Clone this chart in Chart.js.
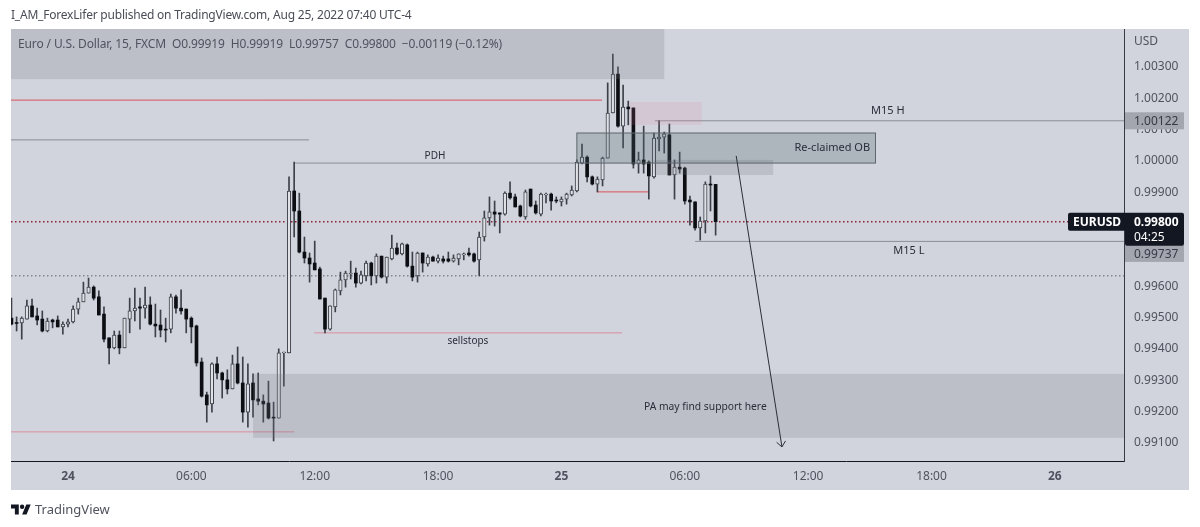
<!DOCTYPE html>
<html>
<head>
<meta charset="utf-8">
<title>EURUSD 15</title>
<script src="https://cdn.jsdelivr.net/npm/chart.js@4"></script>
<style>
  html, body { margin: 0; padding: 0; background: #fff; }
  body { width: 1200px; height: 527px; position: relative; overflow: hidden; font-family: 'Noto Sans', sans-serif; }
  canvas { position: absolute; left: 0; top: 0; }
  .publicado { position: absolute; left: 11px; top: 7px; font-size: 12px; line-height: 16px; color: #4a4d57; white-space: nowrap; letter-spacing: -.21px; }
  .legenda { position: absolute; left: 18px; top: 36px; font-size: 12px; line-height: 16px; color: #50535e; white-space: pre; letter-spacing: -.12px; }
  .marca { position: absolute; left: 11px; top: 500px; height: 18px; display: flex; align-items: center; color: #50535e; font-size: 13px; }
  .marca svg { width: 20px; height: 14px; margin-right: 4px; }
</style>
</head>
<body>
<canvas id="grafico" width="1200" height="527"></canvas>
<div class="publicado">I_AM_ForexLifer published on TradingView.com, Aug 25, 2022 07:40 UTC-4</div>
<div class="legenda">Euro / U.S. Dollar, 15, FXCM  O0.99919  H0.99919  L0.99757  C0.99800  −0.00119 (−0.12%)</div>
<div class="marca">
  <svg viewBox="0 0 36 24"><path fill="#131722" d="M14 22H7V11H0V4h14v18zM28 22h-8l7.5-18h8L28 22z"/><circle fill="#131722" cx="20" cy="8" r="4"/></svg>
  <span>TradingView</span>
</div>
<script>
// candles, 15 min each, index 0 = Aug 24 00:00
const firstCandle = -11;
const opens = [
  .99492,.99478,.99477,.99489,.99531,.99499,.99489,.99451,.99486,.99486,
  .99464,.99473,.99480,.99521,.99544,.99572,.99591,.99560,.99505,.99429,
  .99397,.99438,.99397,.99489,.99515,.99528,.99524,.99534,.99473,.99470,
  .99457,.99457,.99560,.99524,.99521,.99492,.99467,.99352,.99247,.99218,
  .99346,.99317,.99295,.99266,.99346,.99285,.99192,.99285,.99234,.99227,
  .99221,.99176,.99173,.99381,.99381,.99898,.99834,.99703,.99684,.99668,
  .99649,.99556,.99457,.99528,.99579,.99614,.99633,.99636,.99604,.99627,
  .99668,.99627,.99690,.99623,.99681,.99716,.99697,.99726,.99658,.99627,
  .99700,.99665,.99687,.99674,.99681,.99681,.99674,.99681,.99694,.99700,
  .99697,.99678,.99751,.99812,.99831,.99828,.99824,.99891,.99879,.99850,
  .99815,.99904,.99853,.99824,.99885,.99888,.99869,.99863,.99872,.99885,
  .99898,.99987,1.00006,.99943,.99920,.99933,1.00003,1.00147,1.00271,1.00105,
  1.00166,1.00163,.99984,.99997,.99990,.99943,1.00064,1.00070,1.00077,.99949,
  .99974,.99971,.99869,.99863,.99780,.99802,.99920,.99919
];
const highs = [
  .99556,.99496,.99496,.99550,.99553,.99524,.99515,.99492,.99489,.99499,
  .99480,.99489,.99531,.99556,.99607,.99620,.99595,.99579,.99528,.99429,
  .99451,.99451,.99492,.99556,.99588,.99556,.99591,.99560,.99537,.99518,
  .99492,.99569,.99566,.99582,.99521,.99496,.99470,.99365,.99256,.99349,
  .99368,.99320,.99327,.99374,.99400,.99368,.99346,.99314,.99317,.99247,
  .99291,.99224,.99394,.99384,.99943,.99990,.99891,.99751,.99700,.99738,
  .99655,.99556,.99531,.99585,.99639,.99642,.99674,.99652,.99642,.99674,
  .99671,.99697,.99690,.99687,.99757,.99732,.99732,.99729,.99703,.99703,
  .99700,.99694,.99690,.99694,.99690,.99703,.99694,.99697,.99700,.99716,
  .99700,.99767,.99834,.99879,.99866,.99828,.99895,.99927,.99888,.99853,
  .99901,.99904,.99866,.99891,.99891,.99891,.99879,.99879,.99891,.99914,
  .99997,1.00048,1.00010,.99946,.99943,1.00006,1.00243,1.00335,1.00294,1.00236,
  1.00185,1.00163,1.00022,1.00105,.99994,1.00083,1.00122,1.00086,1.00112,.99997,
  1.00022,.99974,.99882,.99863,.99815,.99927,.99946,.99919
];
const lows = [
  .99470,.99451,.99425,.99489,.99496,.99470,.99448,.99448,.99461,.99464,
  .99441,.99464,.99477,.99505,.99544,.99572,.99550,.99502,.99416,.99346,
  .99394,.99378,.99397,.99445,.99483,.99457,.99492,.99470,.99432,.99432,
  .99416,.99445,.99508,.99505,.99445,.99413,.99339,.99240,.99160,.99192,
  .99298,.99237,.99250,.99266,.99282,.99160,.99144,.99176,.99215,.99160,
  .99170,.99100,.99173,.99275,.99381,.99751,.99700,.99668,.99607,.99646,
  .99553,.99445,.99454,.99512,.99566,.99591,.99617,.99591,.99601,.99611,
  .99598,.99604,.99620,.99604,.99678,.99694,.99694,.99655,.99611,.99607,
  .99639,.99658,.99674,.99668,.99668,.99671,.99671,.99662,.99678,.99690,
  .99671,.99627,.99738,.99789,.99786,.99764,.99821,.99872,.99847,.99815,
  .99808,.99847,.99824,.99818,.99860,.99837,.99860,.99850,.99856,.99882,
  .99895,.99984,.99927,.99917,.99895,.99914,1.00003,1.00147,1.00102,1.00035,
  1.00109,.99971,.99955,.99955,.99872,.99939,1.00026,1.00019,.99949,.99872,
  .99955,.99856,.99789,.99773,.99741,.99764,.99834,.99757
];
const closes = [
  .99473,.99475,.99492,.99531,.99496,.99486,.99451,.99483,.99480,.99464,
  .99473,.99480,.99521,.99544,.99572,.99591,.99556,.99502,.99425,.99397,
  .99438,.99397,.99492,.99515,.99524,.99524,.99534,.99473,.99467,.99454,
  .99454,.99560,.99524,.99515,.99489,.99464,.99349,.99243,.99215,.99346,
  .99317,.99295,.99266,.99346,.99285,.99192,.99282,.99231,.99227,.99218,
  .99173,.99173,.99381,.99384,.99898,.99834,.99703,.99684,.99665,.99646,
  .99553,.99457,.99531,.99582,.99614,.99636,.99636,.99604,.99630,.99668,
  .99627,.99690,.99623,.99687,.99716,.99697,.99729,.99658,.99623,.99700,
  .99668,.99687,.99674,.99684,.99674,.99674,.99684,.99697,.99697,.99694,
  .99674,.99751,.99812,.99831,.99824,.99824,.99891,.99876,.99847,.99818,
  .99895,.99850,.99828,.99888,.99888,.99866,.99866,.99872,.99888,.99901,
  .99990,1.00006,.99943,.99920,.99936,1.00003,1.00147,1.00271,1.00105,1.00166,
  1.00160,.99984,.99997,.99984,.99946,1.00067,1.00070,1.00080,.99949,.99974,
  .99968,.99866,.99863,.99780,.99802,.99920,.99917,.99800
];

// axes
const xTicks = [0, 24, 48, 72, 96, 120, 144, 168, 192];
const xLabels = ['24', '06:00', '12:00', '18:00', '25', '06:00', '12:00', '18:00', '26'];
const xBold = ['24', '25', '26'];
const yTicks = [1.003, 1.002, 1.001, 1.0, 0.999, 0.998, 0.997, 0.996, 0.995, 0.994, 0.993, 0.992, 0.991];
const xMin = -11.09, xMax = 205.45, yMin = 0.99036, yMax = 1.00415;

// horizontal levels drawn on the chart
const levelFrom  = [-11.09, -11.09, 44, 114.2, 122, 102.9, -11.09, -11.09, 47.9, -11.09];
const levelTo    = [103.9, 46.9, 99, 205.45, 205.45, 113, 194.6, 205.45, 107.8, 44];
const levelPrice = [1.00188, 1.00061, 0.99987, 1.00122, 0.99737, 0.99895, 0.998, 0.99627, 0.99445, 0.99129];
const levelStyle = ['red', 'grey', 'grey', 'grey', 'grey', 'red', 'last', 'dots', 'pink', 'pink'];

// boxes
const zoneFrom  = [-11.09, 36, 114, 109.3, 99];
const zoneTo    = [116, 205.45, 137.2, 123.3, 157.1];
const zoneTop   = [1.00415, 0.99314, 0.99997, 1.00182, 1.00083];
const zoneBase  = [1.00255, 0.9911, 0.99949, 1.00109, 0.99987];
const zoneStyle = ['grey', 'grey', 'grey', 'pink', 'ob'];

// notes
const noteTexts = ['PDH', 'Re-claimed OB', 'M15 H', 'M15 L', 'sellstops', 'PA may find support here'];
const noteSizes = [10, 11, 11, 11, 10, 10.3];
const noteX     = [71.4, 148.7, 159.5, 163.6, 77.8, 124];
const notePrice = [1.0001, 1.00035, 1.00155, 0.99708, 0.9942, 0.99207];

// arrow, from the OB down to the support zone
const arrowX = [130, 138.9];
const arrowY = [1.0001, 0.99081];

const tagPrices = [1.00122, 0.99737];
const lastPrice = 0.998;

const estilosLinha = {
  red:  { borderColor: '#d9505c', borderWidth: 1 },
  grey: { borderColor: '#8a8d96', borderWidth: 1 },
  pink: { borderColor: '#d98ea0', borderWidth: 1 },
  last: { borderColor: '#8a2334', borderWidth: 1.5, borderDash: [1.5, 2.5] },
  dots: { borderColor: '#5d606b', borderWidth: 1, borderDash: [1.5, 2.5] }
};
const estilosZona = {
  grey: 'rgba(120,123,134,.23)',
  pink: 'rgba(230,130,170,.15)',
  ob:   'rgba(80,100,110,.28)'
};

const indices = opens.map((_, i) => i + firstCandle);
const sobe = i => closes[i] >= opens[i];
const corpoAlta = [], corpoBaixa = [], pavios = [];
indices.forEach((x, i) => {
  pavios.push({ x, y: [lows[i], highs[i]] });
  (sobe(i) ? corpoAlta : corpoBaixa).push({ x, y: [opens[i], closes[i]] });
});

const linhas = levelPrice.map((p, i) => ({
  type: 'line',
  data: [{ x: levelFrom[i], y: p }, { x: levelTo[i], y: p }],
  pointRadius: 0,
  ...estilosLinha[levelStyle[i]]
}));

const desenhos = {
  id: 'desenhos',
  beforeDraw(chart) {
    const c = chart.ctx;
    c.save();
    c.fillStyle = '#ffffff';
    c.fillRect(0, 0, chart.width, chart.height);
    c.fillStyle = '#d1d4dc';
    c.fillRect(11, 29, 1178, 461);
    c.restore();
  },
  afterDatasetsDraw(chart) {
    const c = chart.ctx, sx = chart.scales.x, sy = chart.scales.y;
    c.save();
    // zonas
    zoneFrom.forEach((f, i) => {
      const x0 = sx.getPixelForValue(f), x1 = sx.getPixelForValue(zoneTo[i]);
      const y0 = sy.getPixelForValue(zoneTop[i]), y1 = sy.getPixelForValue(zoneBase[i]);
      c.fillStyle = estilosZona[zoneStyle[i]];
      c.fillRect(x0, y0, x1 - x0, y1 - y0);
      if (zoneStyle[i] === 'ob') {
        c.strokeStyle = '#5f676c';
        c.lineWidth = 1;
        c.strokeRect(x0, y0, x1 - x0, y1 - y0);
      }
    });
    // seta
    const ax0 = sx.getPixelForValue(arrowX[0]), ay0 = sy.getPixelForValue(arrowY[0]);
    const ax1 = sx.getPixelForValue(arrowX[1]), ay1 = sy.getPixelForValue(arrowY[1]);
    const ang = Math.atan2(ay1 - ay0, ax1 - ax0);
    c.strokeStyle = '#2a2e39';
    c.lineWidth = 1;
    c.beginPath();
    c.moveTo(ax0, ay0);
    c.lineTo(ax1, ay1);
    c.moveTo(ax1 - 7 * Math.cos(ang - .7), ay1 - 7 * Math.sin(ang - .7));
    c.lineTo(ax1, ay1);
    c.lineTo(ax1 - 7 * Math.cos(ang + .7), ay1 - 7 * Math.sin(ang + .7));
    c.stroke();
    // notas
    c.fillStyle = '#2a2e39';
    c.textAlign = 'center';
    c.textBaseline = 'middle';
    noteTexts.forEach((t, i) => {
      c.font = noteSizes[i] + "px 'Noto Sans'";
      c.fillText(t, sx.getPixelForValue(noteX[i]), sy.getPixelForValue(notePrice[i]));
    });
    c.restore();
  },
  afterDraw(chart) {
    const c = chart.ctx, sy = chart.scales.y;
    c.save();
    c.font = "12px 'Noto Sans'";
    c.textBaseline = 'middle';
    c.textAlign = 'left';
    c.fillStyle = '#50535e';
    c.fillText('USD', 1134, 42);
    // etiquetas de nivel, a segunda desce para nao bater no ultimo preco
    tagPrices.forEach((p, i) => {
      const y = sy.getPixelForValue(p) + (i === 1 ? 12 : 0);
      c.fillStyle = '#a3a6af';
      c.fillRect(1125, y - 8.5, 59, 17);
      c.fillStyle = '#363a45';
      c.fillText(p.toFixed(5), 1134, y + 1);
    });
    // ultimo preco
    const yl = sy.getPixelForValue(lastPrice);
    c.fillStyle = '#131722';
    c.beginPath();
    c.roundRect(1068, yl - 9, 60, 18, 2);
    c.roundRect(1125, yl - 9, 59, 33, 2);
    c.fill();
    c.fillStyle = '#ffffff';
    c.font = "bold 12px 'Noto Sans'";
    c.fillText('EURUSD', 1073, yl + 1);
    c.fillText(lastPrice.toFixed(5), 1134, yl + 1);
    c.font = "12px 'Noto Sans'";
    c.fillText('04:25', 1134, yl + 16);
    c.restore();
  }
};

new Chart(document.getElementById('grafico'), {
  type: 'bar',
  data: {
    datasets: [
      { data: corpoBaixa, backgroundColor: '#0c0e13', borderWidth: 0, barThickness: 3, grouped: false },
      { data: corpoAlta, backgroundColor: '#dfe1e7', borderColor: '#3d4049', borderWidth: 1, borderSkipped: false, barThickness: 3.5, grouped: false },
      { data: pavios, backgroundColor: '#3d4049', barThickness: 1, grouped: false },
      ...linhas
    ]
  },
  options: {
    responsive: false,
    animation: false,
    layout: { padding: { left: 11, top: 29, right: 0, bottom: 0 } },
    plugins: { legend: { display: false }, tooltip: { enabled: false } },
    scales: {
      x: {
        type: 'linear',
        offset: false,
        min: xMin,
        max: xMax,
        grid: { display: false },
        border: { color: '#131722', width: 1 },
        afterFit(s) { s.height = 66; },
        afterBuildTicks(s) { s.ticks = xTicks.map(value => ({ value })); },
        ticks: {
          autoSkip: false,
          maxRotation: 0,
          padding: 0,
          color: '#50535e',
          callback: v => xLabels[xTicks.indexOf(v)],
          font: ctx => ({
            family: "'Noto Sans'",
            size: 12,
            weight: ctx.tick && xBold.includes(xLabels[xTicks.indexOf(ctx.tick.value)]) ? 'bold' : 'normal'
          })
        }
      },
      y: {
        position: 'right',
        min: yMin,
        max: yMax,
        grid: { display: false },
        border: { color: '#363a45', width: 1 },
        afterFit(s) { s.width = 76; },
        afterBuildTicks(s) { s.ticks = yTicks.map(value => ({ value })); },
        ticks: {
          autoSkip: false,
          padding: 2,
          color: '#50535e',
          // linha vazia + lineHeight curto: desce o texto 2px, como no original
          font: { family: "'Noto Sans'", size: 12, lineHeight: '4px' },
          callback: v => ['', v.toFixed(5)]
        }
      }
    }
  },
  plugins: [desenhos]
});
</script>
</body>
</html>
